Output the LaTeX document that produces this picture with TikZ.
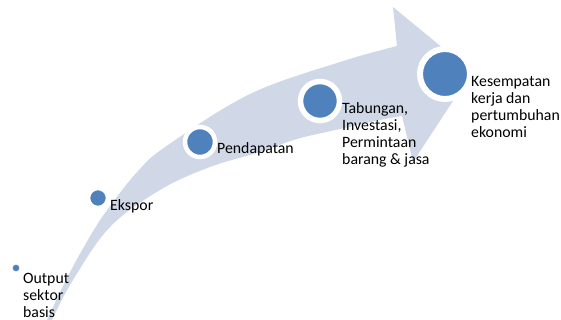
\documentclass[tikz,border=0pt]{standalone}
\usepackage{fontspec}
\setmainfont{Carlito}
\definecolor{stripe}{HTML}{D0D8E8}
\definecolor{dotblue}{HTML}{4F81BD}
\begin{document}
\begin{tikzpicture}[x=1pt,y=-1pt,
  dot/.style={circle,fill=dotblue,draw=white,inner sep=0pt},
  lbl/.style={anchor=base west,inner sep=0pt,font=\fontsize{15.8}{17}\selectfont}]
\useasboundingbox (0,0) rectangle (561,320);
\clip (0,0) rectangle (561,320);
% arrow
\fill[stripe] plot[smooth,tension=0.6] coordinates {(38,340) (47,320) (66,280) (85,245) (105,213) (138,171) (168,145) (250,94) (340,62) (397,46)}
  -- (393,7) -- (472,72) -- (413,162) -- (402,116)
  -- plot[smooth,tension=0.6] coordinates {(402,116) (380,120) (340,129) (297,139) (260,152) (210,167) (160,190) (110,227) (73,280) (52,320) (44,340)}
  -- cycle;
% circles
\node[dot,minimum size=8pt,line width=1pt] (c1) at (16,268) {};
\node[dot,minimum size=17pt,line width=1.5pt] (c2) at (98,198) {};
\node[dot,minimum size=30pt,line width=4.5pt] (c3) at (200,142) {};
\node[dot,minimum size=39pt,line width=5.5pt] (c4) at (320,101) {};
\node[dot,minimum size=50pt,line width=6pt] (c5) at (445,74) {};
% labels
\node[lbl] (t1) at (23,283) {\begin{tabular}[t]{@{}l@{}}Output\\ sektor\\ basis\end{tabular}};
\node[lbl] (t2) at (110,211) {Ekspor};
\node[lbl] (t3) at (217,154) {Pendapatan};
\node[lbl] (t4) at (342,114) {\begin{tabular}[t]{@{}l@{}}Tabungan,\\ Investasi,\\ Permintaan\\ barang \& jasa\end{tabular}};
\node[lbl] (t5) at (471,87) {\begin{tabular}[t]{@{}l@{}}Kesempatan\\ kerja dan\\ pertumbuhan\\ ekonomi\end{tabular}};
\end{tikzpicture}
\end{document}
